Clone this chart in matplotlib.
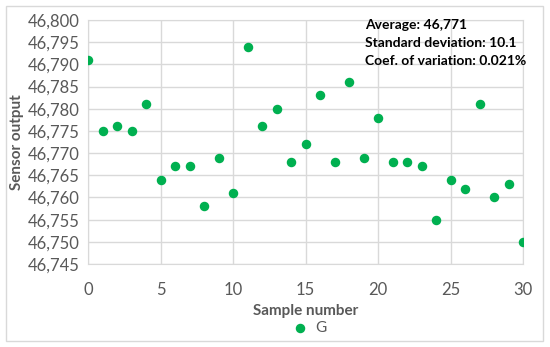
import matplotlib.pyplot as plt
from matplotlib.ticker import FuncFormatter, MultipleLocator
from matplotlib.patches import Rectangle

plt.rcParams['font.family'] = ['Lato', 'DejaVu Sans']

sample = list(range(31))
output = [46791, 46775, 46776, 46775, 46781, 46764, 46767, 46767, 46758, 46769,
          46761, 46794, 46776, 46780, 46768, 46772, 46783, 46768, 46786, 46769,
          46778, 46768, 46768, 46767, 46755, 46764, 46762, 46781, 46760, 46763,
          46750]
stats = ["Average: 46,771", "Standard deviation: 10.1", "Coef. of variation: 0.021%"]

fig = plt.figure(figsize=(5.5, 3.47), dpi=100)
ax = fig.add_axes([88 / 550, 1 - 264 / 347, (523 - 88) / 550, (264 - 20) / 347])

fig.patches.append(Rectangle((6 / 550, 6 / 347), 537 / 550, 335 / 347,
                             transform=fig.transFigure, fill=False,
                             edgecolor='#d9d9d9', linewidth=1))

ax.scatter(sample, output, s=34, color='#00b050', zorder=3, label='G')

ax.set_xlim(0, 30)
ax.set_ylim(46745, 46800)
ax.xaxis.set_major_locator(MultipleLocator(5))
ax.yaxis.set_major_locator(MultipleLocator(5))
ax.yaxis.set_major_formatter(FuncFormatter(lambda v, p: f"{v:,.0f}"))
ax.grid(True, color='#d9d9d9', linewidth=1)
ax.set_axisbelow(True)
for s in ax.spines.values():
    s.set_color('#d9d9d9')
ax.tick_params(length=0, labelsize=12, colors='#595959', pad=6)
ax.tick_params(axis='x', pad=13)

ax.set_xlabel("Sample number", fontsize=11, fontweight='bold', color='#595959', labelpad=4)
ax.set_ylabel("Sensor output", fontsize=11, fontweight='bold', color='#595959', labelpad=3)

for i, t in enumerate(stats):
    fig.text(365 / 550, 1 - (25 + 18 * i) / 347, t, fontsize=10, fontweight='bold',
             color='black', va='center')

ax.legend(loc='center', bbox_to_anchor=(306 / 550, 1 - 328 / 347),
          bbox_transform=fig.transFigure, frameon=False, fontsize=11,
          handletextpad=0.0, markerscale=1, labelcolor='#595959')

fig.savefig("out.png", dpi=100)
